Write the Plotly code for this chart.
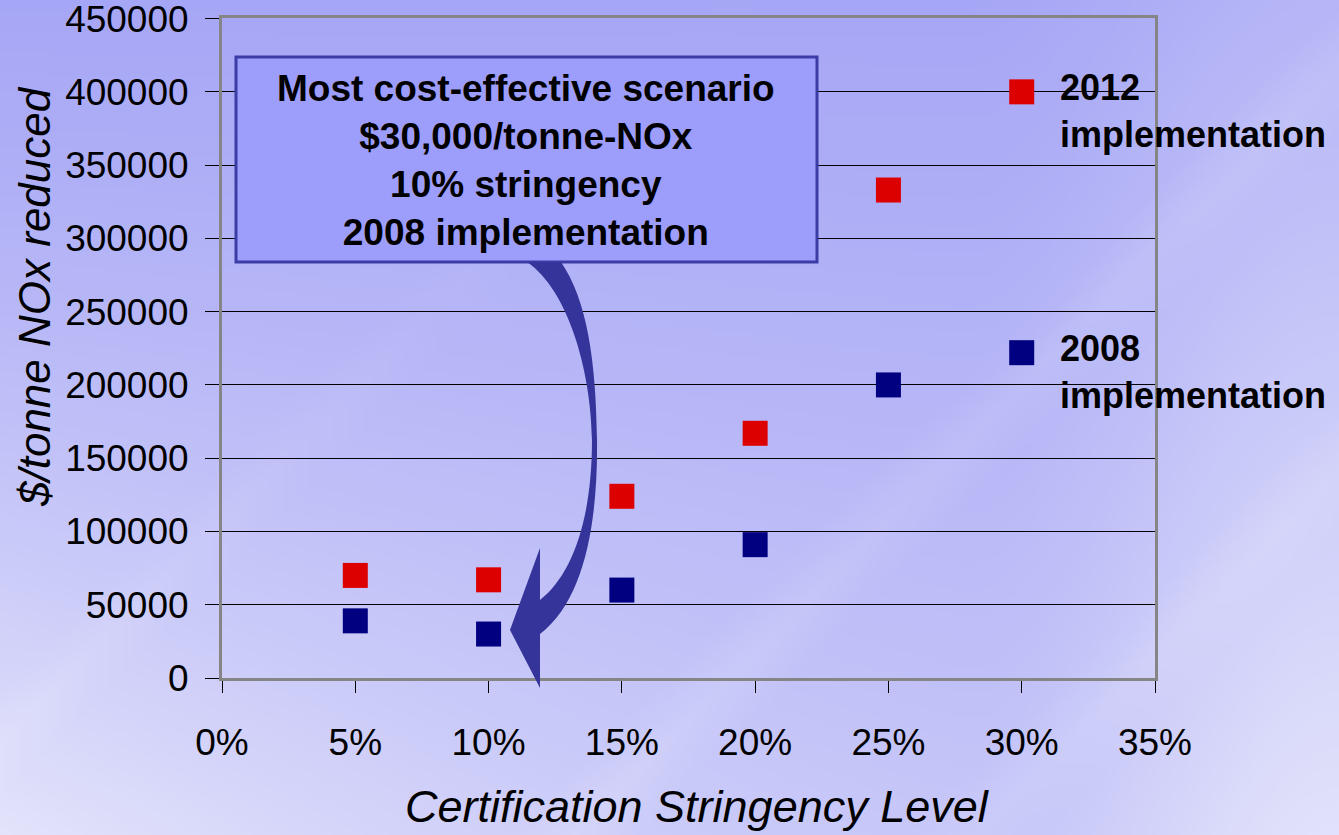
import base64
import struct
import zlib

import plotly.graph_objects as go

# ---- data -------------------------------------------------------------
stringency = [0.05, 0.10, 0.15, 0.20, 0.25, 0.30]
cost_2012 = [70000, 67000, 124000, 167000, 333000, 400000]
cost_2008 = [39000, 30000, 60000, 91000, 200000, 222000]
series_names = ["2012<br>implementation", "2008<br>implementation"]
series_colors = ["#dd0000", "#000080"]
y_ticks = [0, 50000, 100000, 150000, 200000, 250000, 300000, 350000, 400000, 450000]
callout_lines = [
    "Most cost-effective scenario",
    "$30,000/tonne-NOx",
    "10% stringency",
    "2008 implementation",
]

W, H = 1339, 835
ML, MR, MT, MB = 222, 184, 18, 157
PW, PH = W - ML - MR, H - MT - MB


def px(x):
    """pixel x -> paper fraction of the plot area"""
    return (x - ML) / PW


def py(y):
    """pixel y -> paper fraction of the plot area"""
    return (H - MB - y) / PH


# ---- soft lavender backdrop, encoded as a small PNG -------------------
def smooth(a, b, t):
    t = min(max((t - a) / (b - a), 0.0), 1.0)
    return t * t * (3 - 2 * t)


def backdrop_png(w=268, h=167):
    dark = (164, 164, 246)
    light = (234, 234, 252)
    rows = []
    for j in range(h):
        v = j / (h - 1)
        row = bytearray([0])
        for i in range(w):
            u = i / (w - 1)
            t = 0.04 + 0.42 * v
            t += 0.35 * smooth(0.72, 1.0, u) * (0.6 + 0.6 * v)
            t += 0.45 * (1 - u) ** 2 * v ** 1.5
            # faint diagonal vapour streaks
            d1 = (u * 1.0 + v * 0.62) - 1.05
            t += 0.10 * max(0.0, 1 - abs(d1) / 0.05)
            d2 = (u * 1.0 + v * 0.62) - 0.55
            t += 0.08 * max(0.0, 1 - abs(d2) / 0.04) * v
            d3 = (u * 1.0 + v * 0.62) - 1.35
            t += 0.08 * max(0.0, 1 - abs(d3) / 0.05)
            t = min(max(t, 0.0), 1.0)
            row += bytes(int(dark[k] + (light[k] - dark[k]) * t) for k in range(3))
        rows.append(bytes(row))
    raw = b"".join(rows)

    def chunk(tag, data):
        c = struct.pack(">I", len(data)) + tag + data
        return c + struct.pack(">I", zlib.crc32(tag + data) & 0xFFFFFFFF)

    png = b"\x89PNG\r\n\x1a\n"
    png += chunk(b"IHDR", struct.pack(">IIBBBBB", w, h, 8, 2, 0, 0, 0))
    png += chunk(b"IDAT", zlib.compress(raw, 9))
    png += chunk(b"IEND", b"")
    return "data:image/png;base64," + base64.b64encode(png).decode()


FONT = "Arial, Liberation Sans, sans-serif"

fig = go.Figure()
for ys, name, col in zip([cost_2012, cost_2008], series_names, series_colors):
    fig.add_trace(go.Scatter(
        x=stringency, y=ys, mode="markers", name=name.replace("<br>", " "),
        marker=dict(symbol="square", size=25, color=col, line=dict(width=0)),
        cliponaxis=False, showlegend=False,
    ))
    # series label beside the last point
    fig.add_annotation(
        x=stringency[-1], y=ys[-1], xref="x", yref="y",
        text="<b>" + name + "</b>", showarrow=False,
        xanchor="left", yanchor="top", align="left",
        xshift=36, yshift=27,
        font=dict(family=FONT, size=36, color="black"),
    )

# callout box
fig.add_shape(
    type="rect", xref="paper", yref="paper",
    x0=px(236), x1=px(817), y0=py(262), y1=py(57),
    fillcolor="#9d9dfb", line=dict(color="#3c3ca6", width=3), layer="above",
)
fig.add_annotation(
    x=px(526), y=py(160), xref="paper", yref="paper",
    text="<b>" + "<br>".join(callout_lines) + "</b>", showarrow=False,
    xanchor="center", yanchor="middle", align="center",
    font=dict(family=FONT, size=37, color="black"),
)

# curved pointer from the callout down to the 10% / 2008 point
pts = [
    ("M", [(527, 262)]),
    ("C", [(568, 290), (591, 370), (592, 440)]),
    ("C", [(592, 520), (572, 575), (540, 600)]),
    ("L", [(540, 548)]),
    ("L", [(510, 630)]),
    ("L", [(540, 688)]),
    ("L", [(540, 634)]),
    ("C", [(585, 600), (598, 520), (597, 440)]),
    ("C", [(596, 360), (587, 300), (561, 262)]),
]
path = ""
for cmd, coords in pts:
    path += cmd + " " + " ".join(f"{px(a):.5f},{py(b):.5f}" for a, b in coords) + " "
path += "Z"
fig.add_shape(type="path", xref="paper", yref="paper", path=path,
              fillcolor="#34349a", line=dict(width=0), layer="above")

# axis titles
fig.add_annotation(
    x=px(697), y=py(806), xref="paper", yref="paper",
    xanchor="center", yanchor="middle",
    text="Certification Stringency Level", showarrow=False,
    font=dict(family=FONT, size=45, color="black", style="italic"),
)
fig.add_annotation(
    x=px(34), y=py(297), xref="paper", yref="paper",
    xanchor="center", yanchor="middle",
    text="$/tonne NOx reduced", showarrow=False, textangle=-90,
    font=dict(family=FONT, size=44, color="black", style="italic"),
)

fig.update_layout(
    width=W, height=H,
    margin=dict(l=ML, r=MR, t=MT, b=MB, pad=0, autoexpand=False),
    paper_bgcolor="#c8c8f8", plot_bgcolor="rgba(0,0,0,0)",
    font=dict(family=FONT, color="black"),
    images=[dict(
        source=backdrop_png(), xref="paper", yref="paper",
        x=px(0), y=py(0), sizex=W / PW, sizey=H / PH,
        xanchor="left", yanchor="top", sizing="stretch", layer="below",
    )],
    xaxis=dict(
        range=[0, 0.35], dtick=0.05, tick0=0, tickformat=".0%",
        showgrid=False, zeroline=False, automargin=False,
        showline=True, linecolor="#858585", linewidth=3, mirror=True,
        ticks="outside", ticklen=12, tickcolor="black", tickwidth=1,
        ticklabelstandoff=18,
        tickfont=dict(family=FONT, size=37, color="black"),
    ),
    yaxis=dict(
        range=[0, 450400], tickmode="array", tickvals=y_ticks,
        ticktext=[str(v) for v in y_ticks], automargin=False,
        showgrid=True, gridcolor="black", gridwidth=1, zeroline=False,
        showline=True, linecolor="#858585", linewidth=3, mirror=True,
        ticks="outside", ticklen=14, tickcolor="black", tickwidth=1,
        ticklabelstandoff=9, ticklabeloverflow="allow",
        tickfont=dict(family=FONT, size=37, color="black"),
    ),
)

fig.write_html("out.html")
